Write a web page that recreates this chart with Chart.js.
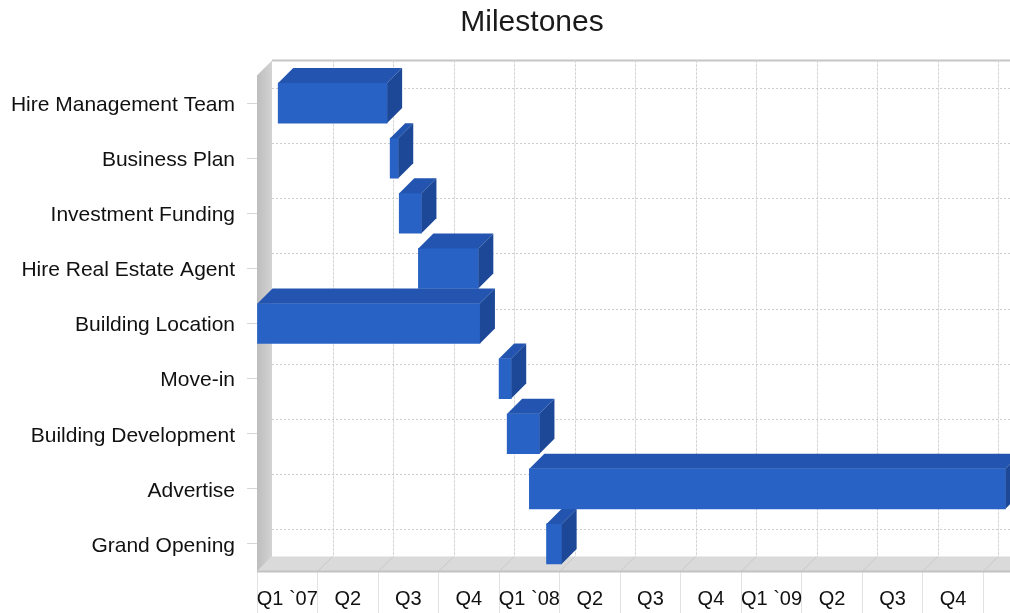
<!DOCTYPE html>
<html>
<head>
<meta charset="utf-8">
<title>Milestones</title>
<script src="https://cdn.jsdelivr.net/npm/chart.js@4.4.1/dist/chart.umd.min.js"></script>
<style>
  html, body { margin: 0; padding: 0; background: #fff; overflow: hidden; }
  #wrap { width: 1010px; height: 613px; overflow: hidden; }
  canvas { display: block; }
</style>
</head>
<body>
<div id="wrap"><canvas id="milestonesChart" width="1080" height="613"></canvas></div>
<script>
// Milestones, values in months counted from the start of Q1 2007
const categories = [
    'Hire Management Team',
    'Business Plan',
    'Investment Funding',
    'Hire Real Estate Agent',
    'Building Location',
    'Move-in',
    'Building Development',
    'Advertise',
    'Grand Opening'
];
const startMonths = [1.05, 6.6, 7.05, 8.0, 0, 12.0, 12.4, 13.5, 14.35];
const endMonths = [6.45, 7.0, 8.15, 10.97, 11.05, 12.6, 14.0, 37.1, 15.1];
const quarterLabels = ['Q1 `07', 'Q2', 'Q3', 'Q4', 'Q1 `08', 'Q2', 'Q3', 'Q4', 'Q1 `09', 'Q2', 'Q3', 'Q4'];

const DEPTH = 15;
const FONT = "'Liberation Sans', Arial, sans-serif";

function line(ctx, x1, y1, x2, y2) {
    ctx.beginPath();
    ctx.moveTo(x1, y1);
    ctx.lineTo(x2, y2);
    ctx.stroke();
}

function poly(ctx, pts, fill) {
    ctx.beginPath();
    ctx.moveTo(pts[0][0], pts[0][1]);
    for (let i = 1; i < pts.length; i++) ctx.lineTo(pts[i][0], pts[i][1]);
    ctx.closePath();
    ctx.fillStyle = fill;
    ctx.fill();
}

// Walls, floor, grid and bar extrusions for the 3D look
const threeD = {
    id: 'threeD',
    beforeDraw(chart) {
        const ctx = chart.ctx;
        ctx.save();
        ctx.fillStyle = '#ffffff';
        ctx.fillRect(0, 0, chart.width, chart.height);
        ctx.restore();
    },
    beforeDatasetsDraw(chart) {
        const { ctx, chartArea: a, scales: { x, y } } = chart;
        const d = DEPTH;
        ctx.save();

        // back wall top edge
        ctx.strokeStyle = '#c6c6c6';
        ctx.lineWidth = 2;
        line(ctx, a.left + d, a.top - d, a.right + d, a.top - d);

        // back wall grid
        ctx.lineWidth = 1;
        ctx.strokeStyle = '#f0f0f0';
        x.ticks.forEach(t => {
            if (t.value <= 0) return;
            const px = Math.round(x.getPixelForValue(t.value) + d) + 0.5;
            line(ctx, px, a.top - d, px, a.bottom - d);
        });
        ctx.strokeStyle = '#cdcdcd';
        ctx.setLineDash([2, 2]);
        x.ticks.forEach(t => {
            if (t.value <= 0) return;
            const px = Math.round(x.getPixelForValue(t.value) + d) + 0.5;
            line(ctx, px, a.top - d, px, a.bottom - d);
        });
        y.ticks.forEach((t, i) => {
            const py = Math.round(y.getPixelForTick(i) - d) + 0.5;
            line(ctx, a.left + d, py, a.right + d, py);
        });
        ctx.setLineDash([]);

        // floor
        poly(ctx, [[a.left, a.bottom], [a.left + d, a.bottom - d], [a.right + d, a.bottom - d], [a.right, a.bottom]], '#dadada');
        ctx.strokeStyle = '#c9c9c9';
        x.ticks.forEach(t => {
            if (t.value <= 0) return;
            const px = x.getPixelForValue(t.value);
            line(ctx, px, a.bottom, px + d, a.bottom - d);
        });
        ctx.strokeStyle = '#c2c2c2';
        ctx.lineWidth = 2;
        line(ctx, a.left, a.bottom, a.right, a.bottom);

        // left wall
        const g = ctx.createLinearGradient(a.left, 0, a.left + d, 0);
        g.addColorStop(0, '#bdbdbd');
        g.addColorStop(1, '#d3d3d3');
        poly(ctx, [[a.left, a.top], [a.left + d, a.top - d], [a.left + d, a.bottom - d], [a.left, a.bottom]], g);

        ctx.restore();
    },
    afterDatasetsDraw(chart) {
        const ctx = chart.ctx;
        const d = DEPTH;
        const meta = chart.getDatasetMeta(0);
        ctx.save();
        meta.data.forEach(bar => {
            const p = bar.getProps(['x', 'base', 'y', 'height'], true);
            const left = Math.min(p.x, p.base);
            const right = Math.max(p.x, p.base);
            const top = p.y - p.height / 2;
            const bottom = p.y + p.height / 2;
            poly(ctx, [[left, top], [left + d, top - d], [right + d, top - d], [right, top]], '#2254b0');
            poly(ctx, [[right, top], [right + d, top - d], [right + d, bottom - d], [right, bottom]], '#1c4897');
        });
        ctx.restore();
    }
};

const ctx = document.getElementById('milestonesChart').getContext('2d');
new Chart(ctx, {
    type: 'bar',
    data: {
        labels: categories,
        datasets: [{
            label: 'Milestones',
            data: categories.map((c, i) => [startMonths[i], endMonths[i]]),
            backgroundColor: '#2862c4',
            borderWidth: 0,
            barThickness: 40
        }]
    },
    options: {
        indexAxis: 'y',
        responsive: false,
        devicePixelRatio: 1,
        animation: false,
        layout: {
            padding: { left: 0, right: 16, top: 0, bottom: 0 }
        },
        plugins: {
            legend: { display: false },
            tooltip: { enabled: false },
            title: {
                display: true,
                text: 'Milestones',
                color: '#1a1a1a',
                font: { family: FONT, size: 30, weight: 'normal' },
                padding: { top: 5, bottom: 34.5 }
            }
        },
        scales: {
            x: {
                type: 'linear',
                min: 0,
                max: 40,
                afterBuildTicks: scale => {
                    const ticks = [];
                    for (let m = 0; m < 40; m += 3) ticks.push({ value: m });
                    scale.ticks = ticks;
                },
                afterFit: scale => { scale.height = 41.5; },
                border: { display: false },
                grid: {
                    drawOnChartArea: false,
                    drawTicks: true,
                    tickLength: 41.5,
                    color: '#e2e2e2'
                },
                ticks: {
                    callback: (value, index) => quarterLabels[index] || '',
                    labelOffset: 30.26,
                    padding: -26,
                    maxRotation: 0,
                    autoSkip: false,
                    color: '#111',
                    font: { family: FONT, size: 20 }
                }
            },
            y: {
                afterFit: scale => { scale.width = 257; },
                border: { display: false },
                grid: {
                    offset: false,
                    drawOnChartArea: false,
                    drawTicks: true,
                    tickLength: 10,
                    color: '#d6d6d6'
                },
                ticks: {
                    padding: 12,
                    labelOffset: 2,
                    color: '#111',
                    font: { family: FONT, size: 21 }
                }
            }
        }
    },
    plugins: [threeD]
});
</script>
</body>
</html>
